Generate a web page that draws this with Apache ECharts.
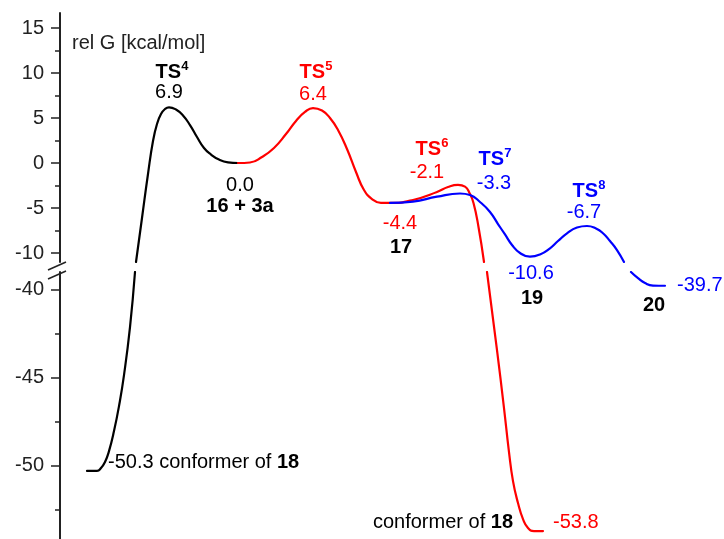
<!DOCTYPE html>
<html>
<head>
<meta charset="utf-8">
<script src="https://cdn.jsdelivr.net/npm/echarts@6/dist/echarts.min.js"></script>
<style>
html,body{margin:0;padding:0;background:#fff;}
#chart{width:724px;height:539px;}
</style>
</head>
<body>
<div id="chart"></div>
<script>
// ---- data (reaction coordinate, rel G in kcal/mol) ----
const blackLower = [[2.7,-50.3],[3.7,-50.3],[4.1,-50.14],[4.5,-49.8],[4.9,-49.18],[5.4,-48.04],[5.9,-46.62],[6.4,-44.86],[7.0,-42.13],[7.5,-39.0]];
const blackUpper = [[7.6,-11.0],[8.2,-6.11],[8.8,-1.22],[9.3,2.44],[9.7,4.33],[10.1,5.44],[10.5,6.0],[10.9,6.19],
                    [11.6,5.94],[12.3,5.28],[13.0,4.22],[13.7,2.89],[14.4,1.67],[15.1,0.94],[15.9,0.39],[16.8,0.08],[17.8,0.0]];
const redUpper = [[17.8,0.0],[19.0,0.06],[20.2,0.67],[21.4,1.67],[22.6,3.22],[23.6,4.67],[24.5,5.67],[25.3,6.11],
                  [26.2,5.83],[27.0,5.0],[27.8,3.67],[28.7,1.56],[29.6,-1.0],[30.4,-3.0],[31.2,-4.0],[32.1,-4.44],[33.0,-4.44],
                  [35.3,-4.11],[37.7,-3.22],[38.8,-2.67],[39.8,-2.44],[40.5,-2.63],[40.95,-3.33],[41.35,-4.44],[41.85,-7.11],[42.4,-11.0]];
const redLower = [[42.7,-39.0],[43.7,-43.44],[44.4,-46.73],[44.9,-49.23],[45.3,-50.88],[45.8,-52.13],[46.3,-53.04],[46.8,-53.55],[47.4,-53.72],[48.3,-53.72]];
const blueUpper = [[33.0,-4.44],[35.3,-4.3],[37.7,-3.74],[40.0,-3.39],[41.0,-3.56],[42.0,-4.33],[43.0,-5.44],[43.8,-6.78],[44.5,-7.94],[45.2,-9.11],[46.0,-10.0],[47.0,-10.41],
                   [48.0,-10.17],[49.0,-9.48],[49.8,-8.67],[50.7,-7.81],[51.7,-7.17],[52.7,-7.0],[53.6,-7.28],[54.3,-7.81],[55.0,-8.67],[55.7,-9.67],[56.4,-11.0]];
const blueLower = [[57.1,-39.0],[57.8,-39.35],[58.5,-39.63],[59.3,-39.77],[60.5,-39.78]];

const topMajorTicks = [-10,-5,0,5,10,15];
const topMinorTicks = [-7.5,-2.5,2.5,7.5,12.5];
const bottomMajorTicks = [-50,-45,-40];
const bottomMinorTicks = [-52.5,-47.5,-42.5];

const axisTitle = 'rel G [kcal/mol]';
const tsNames = ['4','5','6','7','8'];
const energyLabels = ['6.9','0.0','6.4','-4.4','-2.1','-3.3','-10.6','-6.7','-39.7','-50.3','-53.8'];
const compoundLabels = ['16 + 3a','17','19','20','18'];

// ---- styling ----
const FONT = '"Liberation Sans", Arial, Helvetica, sans-serif';
const FS = 20;
const BLACK = '#000000', RED = '#ff0000', BLUE = '#0000ff', AXIS = '#222222';

function txt(x, y, text, color, opts) {
  opts = opts || {};
  return {
    type: 'text', x: x, y: y, silent: true,
    style: Object.assign({
      text: text, fill: color, fontFamily: FONT, fontSize: FS,
      align: opts.align || 'center', verticalAlign: 'middle'
    }, opts.style || {})
  };
}
function tsLabel(x, y, num, color) {
  return txt(x, y, '{t|TS}{s|' + num + '}', color, {style: {rich: {
    t: {fontFamily: FONT, fontSize: FS, fontWeight: 'bold', fill: color, lineHeight: 24},
    s: {fontFamily: FONT, fontSize: 13, fontWeight: 'bold', fill: color, lineHeight: 13, verticalAlign: 'top'}
  }}});
}
function mixed(x, y, plain, bold, color, align) {
  return txt(x, y, '{n|' + plain + '}{b|' + bold + '}', color, {align: align, style: {rich: {
    n: {fontFamily: FONT, fontSize: FS, fill: color},
    b: {fontFamily: FONT, fontSize: FS, fontWeight: 'bold', fill: color}
  }}});
}
const bold = {fontWeight: 'bold'};

const graphics = [
  txt(72, 43, axisTitle, AXIS, {align: 'left'}),
  tsLabel(172, 72, tsNames[0], BLACK),
  txt(169, 92, energyLabels[0], BLACK),
  txt(240, 185, energyLabels[1], BLACK),
  txt(240, 206, compoundLabels[0], BLACK, {style: bold}),
  tsLabel(316, 72, tsNames[1], RED),
  txt(313, 94, energyLabels[2], RED),
  txt(400, 223, energyLabels[3], RED),
  txt(401, 247, compoundLabels[1], BLACK, {style: bold}),
  tsLabel(432, 149, tsNames[2], RED),
  txt(427, 172, energyLabels[4], RED),
  tsLabel(495, 159, tsNames[3], BLUE),
  txt(494, 183, energyLabels[5], BLUE),
  tsLabel(589, 191, tsNames[4], BLUE),
  txt(584, 212, energyLabels[7], BLUE),
  txt(531, 273, energyLabels[6], BLUE),
  txt(532, 298, compoundLabels[2], BLACK, {style: bold}),
  txt(654, 305, compoundLabels[3], BLACK, {style: bold}),
  txt(677, 285, energyLabels[8], BLUE, {align: 'left'}),
  mixed(108, 462, energyLabels[9] + ' conformer of ', compoundLabels[4], BLACK, 'left'),
  mixed(513, 522, 'conformer of ', compoundLabels[4], BLACK, 'right'),
  txt(553, 522, energyLabels[10], RED, {align: 'left'}),
  // axis break marks
  {type: 'line', silent: true, shape: {x1: 48, y1: 270, x2: 66, y2: 262}, style: {stroke: AXIS, lineWidth: 1.5}},
  {type: 'line', silent: true, shape: {x1: 48, y1: 279, x2: 66, y2: 271}, style: {stroke: AXIS, lineWidth: 1.5}}
];

function majorAxis(gi, min, max, ticks) {
  return {
    gridIndex: gi, type: 'value', min: min, max: max, position: 'left',
    axisLine: {show: true, lineStyle: {color: AXIS, width: 2}},
    splitLine: {show: false},
    axisTick: {show: true, length: 9, lineStyle: {color: AXIS, width: 1.5}, customValues: ticks},
    axisLabel: {show: true, customValues: ticks, margin: 16, fontSize: FS, color: AXIS, fontFamily: FONT}
  };
}
function minorAxis(gi, min, max, ticks) {
  return {
    gridIndex: gi, type: 'value', min: min, max: max, position: 'left', offset: 0,
    axisLine: {show: false},
    splitLine: {show: false},
    axisTick: {show: true, length: 5, lineStyle: {color: AXIS, width: 1.5}, customValues: ticks},
    axisLabel: {show: false}
  };
}
function curve(data, color, gi) {
  return {
    type: 'line', data: data, xAxisIndex: gi, yAxisIndex: gi * 2,
    smooth: 0.5, symbol: 'none', clip: true,
    lineStyle: {color: color, width: 2.2, cap: 'round', join: 'round'}, silent: true
  };
}

const chart = echarts.init(document.getElementById('chart'), null, {renderer: 'canvas'});
chart.setOption({
  animation: false,
  backgroundColor: '#ffffff',
  grid: [
    {left: 60, top: 13, width: 664, height: 249},
    {left: 60, top: 272, width: 664, height: 267}
  ],
  xAxis: [
    {gridIndex: 0, type: 'value', min: 0, max: 66.4, show: false},
    {gridIndex: 1, type: 'value', min: 0, max: 66.4, show: false}
  ],
  yAxis: [
    majorAxis(0, -11.0, 16.67, topMajorTicks),
    minorAxis(0, -11.0, 16.67, topMinorTicks),
    majorAxis(1, -54.17, -39.0, bottomMajorTicks),
    minorAxis(1, -54.17, -39.0, bottomMinorTicks)
  ],
  series: [
    curve(blackUpper, BLACK, 0),
    curve(blackLower, BLACK, 1),
    curve(redUpper, RED, 0),
    curve(redLower, RED, 1),
    curve(blueUpper, BLUE, 0),
    curve(blueLower, BLUE, 1)
  ],
  graphic: graphics
});
</script>
</body>
</html>
